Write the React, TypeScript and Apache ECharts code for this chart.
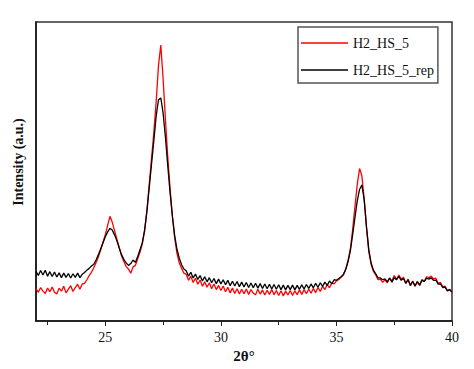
import React, { useEffect, useRef } from "react";
import * as echarts from "echarts";

// 2θ grid: start and step of the scan (degrees)
const X_START = 22;
const X_STEP = 0.1;

const xTicks = [25, 30, 35, 40];
const xMinorTicks = [22.5, 27.5, 32.5, 37.5];

const seriesNames = ["H2_HS_5", "H2_HS_5_rep"];

// Intensity (a.u.), one value per 0.1° from 22.0 to 40.0
const h2hs5 = [
  10.8, 9.6, 11.2, 10.0, 9.2, 11.0, 9.8, 11.4, 9.6, 9.0,
  11.0, 10.0, 11.6, 9.4, 10.6, 11.8, 9.9, 11.2, 12.3, 10.6,
  12.4, 12.6, 13.8, 15.2, 16.3, 17.8, 19.6, 21.5, 23.8, 26.4,
  28.9, 32.0, 35.0, 33.0, 30.2, 27.4, 24.6, 21.8, 19.9, 18.2,
  17.4, 16.0, 18.1, 18.6, 20.8, 23.0, 25.8, 30.2, 37.0, 45.8,
  54.5, 63.2, 73.5, 85.5, 92.3, 81.0, 67.5, 55.0, 44.5, 35.0,
  27.8, 22.6, 19.4, 17.6, 16.0, 15.6, 13.6, 15.0, 12.9, 14.3,
  12.3, 13.7, 11.6, 13.1, 11.3, 12.8, 10.8, 12.4, 10.5, 11.9,
  10.2, 11.7, 9.8, 11.3, 9.4, 11.0, 9.2, 10.8, 9.0, 10.6,
  9.1, 10.7, 8.9, 10.5, 9.3, 8.8, 10.6, 9.0, 10.4, 8.7,
  10.3, 8.9, 10.5, 8.8, 10.2, 8.5, 10.1, 8.4, 10.0, 8.7,
  10.2, 8.5, 10.1, 8.8, 10.4, 8.9, 10.5, 9.1, 10.7, 9.3,
  10.9, 9.5, 11.2, 9.9, 11.6, 10.5, 12.2, 11.1, 12.8, 12.4,
  13.4, 13.9, 14.6, 15.4, 17.3, 20.2, 24.0, 30.5, 38.2, 45.6,
  51.0, 48.6, 40.8, 31.2, 23.2, 19.0, 16.6, 15.4, 13.8, 14.0,
  12.9, 13.8, 12.8, 14.3, 13.4, 15.2, 13.9, 15.4, 14.0, 14.6,
  12.6, 14.0, 11.9, 13.4, 11.6, 13.3, 11.9, 13.9, 13.3, 14.8,
  14.5, 15.0, 14.1, 14.3, 12.6, 12.9, 11.4, 11.7, 10.1, 10.6,
  9.6,
];

const h2hs5rep = [
  16.6, 15.2, 16.9, 15.4, 17.0, 15.0, 16.5, 14.9, 16.4, 14.7,
  16.1, 14.5, 16.0, 14.6, 15.9, 14.4, 15.8, 14.6, 16.0, 14.5,
  15.6, 16.2, 17.0, 17.6, 18.4, 19.0, 20.4, 22.2, 24.2, 26.2,
  28.2, 29.8, 31.0, 30.4, 28.8, 26.8, 24.4, 22.2, 20.6, 19.4,
  18.6, 19.2, 20.4, 19.6, 21.6, 23.8, 26.2, 30.4, 36.8, 44.6,
  52.6, 60.4, 68.6, 74.0, 74.6, 69.5, 61.5, 52.0, 43.0, 35.2,
  28.6, 24.0, 21.0, 18.8, 17.4, 16.8, 15.0, 16.3, 14.4, 15.7,
  13.9, 15.2, 13.4, 14.8, 13.1, 14.5, 12.8, 14.2, 12.5, 14.0,
  12.4, 13.8, 12.1, 13.6, 11.8, 13.3, 11.7, 13.2, 11.5, 13.0,
  11.4, 12.9, 11.2, 12.7, 11.1, 12.6, 11.0, 12.5, 10.9, 12.4,
  10.8, 12.3, 10.7, 12.2, 10.6, 12.1, 10.5, 12.0, 10.4, 11.9,
  10.5, 12.0, 10.4, 11.9, 10.6, 12.1, 10.7, 12.2, 10.9, 12.4,
  11.1, 12.6, 11.3, 12.8, 11.6, 13.0, 11.9, 13.4, 12.4, 13.8,
  13.6, 14.2, 14.8, 15.6, 17.2, 19.8, 23.4, 28.8, 34.6, 40.2,
  44.0, 45.5, 40.6, 31.6, 23.8, 19.4, 17.0, 15.8, 14.4, 14.4,
  13.8, 14.1, 13.1, 14.4, 13.0, 14.5, 13.8, 14.9, 13.6, 14.2,
  12.6, 13.8, 11.9, 13.2, 11.7, 13.1, 12.0, 13.6, 13.2, 14.3,
  14.0, 14.4, 13.6, 13.7, 12.3, 12.4, 11.2, 11.3, 10.1, 10.5,
  9.7,
];

const FONT = "'Liberation Serif', 'Times New Roman', serif";

function toPairs(vals: number[]) {
  return vals.map((v, i) => [Math.round((X_START + i * X_STEP) * 10) / 10, v]);
}

export default function App() {
  const ref = useRef<HTMLDivElement>(null);
  useEffect(() => {
    if (!ref.current) return;
    const chart = echarts.init(ref.current, null, { renderer: "svg" });
    chart.setOption({
      animation: false,
      backgroundColor: "#ffffff",
      textStyle: { fontFamily: FONT },
      grid: {
        left: 36,
        top: 22,
        width: 416,
        height: 299,
        show: true,
        borderColor: "#333",
        borderWidth: 1.5,
        backgroundColor: "transparent",
      },
      legend: {
        orient: "vertical",
        left: 298,
        top: 27,
        data: seriesNames,
        icon: "rect",
        itemWidth: 47,
        itemHeight: 1.5,
        itemGap: 13,
        padding: [9, 4, 6, 3],
        borderColor: "#555",
        borderWidth: 1.5,
        backgroundColor: "#fff",
        textStyle: { fontFamily: FONT, fontSize: 14, color: "#111", lineHeight: 14 },
      },
      xAxis: [
        {
          type: "value",
          min: 22,
          max: 40,
          name: "2θ°",
          nameLocation: "middle",
          nameGap: 26,
          nameTextStyle: { fontFamily: FONT, fontSize: 15, fontWeight: "bold", color: "#111" },
          axisLine: { show: true, lineStyle: { color: "#111", width: 1.5 } },
          axisTick: { show: true, inside: false, length: 5, customValues: xTicks, lineStyle: { color: "#222" } },
          axisLabel: { customValues: xTicks, margin: 9, fontFamily: FONT, fontSize: 14, color: "#111" },
          splitLine: { show: false },
        },
        {
          type: "value",
          min: 22,
          max: 40,
          position: "bottom",
          axisLine: { show: false },
          axisTick: { show: true, inside: false, length: 4, customValues: xMinorTicks, lineStyle: { color: "#222" } },
          axisLabel: { show: false },
          splitLine: { show: false },
        },
      ],
      yAxis: {
        type: "value",
        min: 0,
        max: 100,
        axisLine: { show: true, lineStyle: { color: "#111", width: 1.5 } },
        axisTick: { show: false },
        axisLabel: { show: false },
        splitLine: { show: false },
      },
      graphic: [
        {
          type: "text",
          x: 18,
          y: 162,
          rotation: Math.PI / 2,
          style: {
            text: "Intensity (a.u.)",
            fontFamily: FONT,
            fontSize: 14,
            fontWeight: "bold",
            fill: "#111",
            align: "center",
            verticalAlign: "middle",
          },
        },
      ],
      series: [
        {
          name: seriesNames[0],
          type: "line",
          data: toPairs(h2hs5),
          symbol: "none",
          color: "#ff0000",
          lineStyle: { color: "#ff0000", width: 1.3 },
        },
        {
          name: seriesNames[1],
          type: "line",
          data: toPairs(h2hs5rep),
          symbol: "none",
          color: "#000000",
          lineStyle: { color: "#000000", width: 1.3 },
        },
      ],
    });
    return () => chart.dispose();
  }, []);
  return (
    <div
      ref={ref}
      style={{ position: "fixed", left: 0, top: 0, width: 474, height: 369, background: "#fff" }}
    />
  );
}
